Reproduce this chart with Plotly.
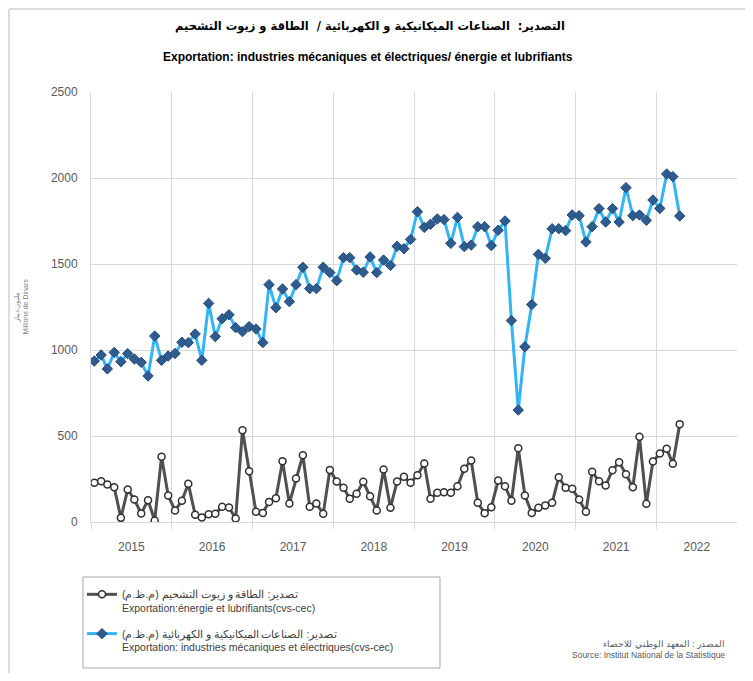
import pandas as pd
import plotly.graph_objects as go

# Monthly data, January 2015 -> April 2022 (millions of dinars)
start_month = "2015-01-01"
n_months = 88

energie = [228, 237, 218, 202, 24, 189, 131, 49, 127, 9, 379, 154,
           67, 123, 222, 42, 26, 45, 48, 88, 84, 20, 534, 295,
           59, 53, 117, 138, 353, 108, 253, 388, 88, 108, 48, 303,
           235, 199, 135, 164, 234, 150, 67, 305, 83, 235, 263, 228,
           272, 340, 135, 170, 173, 170, 208, 309, 358, 112, 51, 86,
           241, 208, 123, 429, 154, 53, 83, 96, 112, 260, 199, 193,
           131, 59, 292, 237, 212, 301, 348, 278, 202, 495, 106, 352,
           398, 426, 338, 569]

industries = [936, 971, 890, 986, 932, 979, 948, 928, 849, 1081, 940, 965,
              980, 1045, 1043, 1093, 940, 1271, 1078, 1182, 1205, 1130, 1107, 1136,
              1122, 1043, 1380, 1246, 1355, 1281, 1380, 1481, 1357, 1357, 1481, 1450,
              1403, 1537, 1537, 1465, 1452, 1541, 1450, 1523, 1492, 1603, 1589, 1643,
              1804, 1713, 1731, 1762, 1758, 1620, 1771, 1601, 1610, 1717, 1717, 1607,
              1696, 1750, 1171, 651, 1019, 1264, 1556, 1533, 1705, 1705, 1694, 1785,
              1781, 1628, 1717, 1822, 1744, 1822, 1744, 1944, 1781, 1785, 1754, 1872,
              1823, 2023, 2008, 1779]

y_ticks = [0, 500, 1000, 1500, 2000, 2500]

name_energie = "تصدير: الطاقة و زيوت التشحيم (م.ظ.م)<br>Exportation:énergie et lubrifiants(cvs-cec)"
name_industries = "تصدير: الصناعات الميكانيكية و الكهربائية (م.ظ.م)<br>Exportation: industries mécaniques et électriques(cvs-cec)"
title_ar = "التصدير:  الصناعات الميكانيكية و الكهربائية /  الطاقة و زيوت التشحيم"
title_fr = "Exportation: industries mécaniques et électriques/ énergie et lubrifiants"
ytitle = "مليون دينار<br>Millions de Dinars"
source_txt = "المصدر : المعهد الوطني للاحصاء<br>Source: Institut National de la Statistique"

months = pd.date_range(start_month, periods=n_months, freq="MS")
x = months + pd.Timedelta(days=15)  # points centred in each month

FONT = "Liberation Sans, Arial, sans-serif"
GRID = "#D9D9D9"
TXT = "#595959"

# page body has an 8px margin: plot area spans screen x 91..737, y 92..522
PW, PH = 646, 430


def px_x(sx):
    return (sx - 91) / PW


def px_y(sy):
    return (522 - sy) / PH


fig = go.Figure()
fig.add_trace(go.Scatter(
    x=x, y=energie, mode="lines+markers", name=name_energie,
    legendgroup="a",
    line=dict(color="#505050", width=3),
    marker=dict(symbol="circle", size=7, color="white",
                line=dict(color="#303030", width=1.5)),
))
fig.add_trace(go.Scatter(
    x=x, y=industries, mode="lines+markers", name=name_industries,
    legendgroup="b",
    line=dict(color="#33B4F5", width=3),
    marker=dict(symbol="diamond", size=8, color="#2E5C8F",
                line=dict(color="#24497A", width=1)),
))

fig.update_layout(
    width=745, height=665,
    paper_bgcolor="white", plot_bgcolor="white",
    margin=dict(l=83, r=16, t=84, b=151),
    font=dict(family=FONT, color=TXT),
    showlegend=True,
    legend=dict(
        x=px_x(82), y=px_y(581), xanchor="left", yanchor="top",
        bgcolor="rgba(0,0,0,0)", borderwidth=0,
        font=dict(size=10.5, color="#404040", family=FONT),
        valign="top", traceorder="grouped", tracegroupgap=9,
    ),
    xaxis=dict(
        type="date",
        range=["2015-01-01", "2022-12-31"],
        tick0=start_month, dtick="M12", tickformat="%Y",
        ticklabelmode="period",
        showgrid=True, gridcolor=GRID, gridwidth=1,
        ticks="outside", ticklen=6, tickcolor=GRID,
        showline=True, linecolor=GRID,
        tickfont=dict(size=12, color=TXT),
        ticklabelstandoff=8,
        automargin=False, zeroline=False,
    ),
    yaxis=dict(
        range=[0, 2500], tickvals=y_ticks,
        showgrid=True, gridcolor=GRID, gridwidth=1,
        showline=True, linecolor=GRID, zeroline=False,
        ticks="", tickfont=dict(size=12, color=TXT),
        ticklabelstandoff=10,
        title=dict(text=ytitle, font=dict(size=7, color="#7F7F7F"), standoff=21),
        automargin=False,
    ),
    annotations=[
        dict(text="<b>" + title_ar + "</b>", x=px_x(370), y=px_y(27), xref="paper", yref="paper",
             xanchor="center", yanchor="middle", showarrow=False,
             font=dict(size=11.5, color="#000000", family="DejaVu Sans, sans-serif")),
        dict(text="<b>" + title_fr + "</b>", x=px_x(368), y=px_y(57), xref="paper", yref="paper",
             xanchor="center", yanchor="middle", showarrow=False,
             font=dict(size=12, color="#000000", family=FONT)),
        dict(text=source_txt, x=px_x(727), y=px_y(649), xref="paper", yref="paper",
             xanchor="right", yanchor="middle", align="right", showarrow=False,
             font=dict(size=8.5, color=TXT, family=FONT)),
    ],
    shapes=[
        dict(type="rect", xref="paper", yref="paper",
             x0=px_x(83), x1=px_x(440), y0=px_y(668), y1=px_y(577),
             line=dict(color="#A6A6A6", width=1), fillcolor="rgba(0,0,0,0)"),
        dict(type="line", xref="paper", yref="paper",
             x0=px_x(9), x1=px_x(760), y0=px_y(9), y1=px_y(9),
             line=dict(color="#D0D0D0", width=1.5)),
        dict(type="line", xref="paper", yref="paper",
             x0=px_x(9), x1=px_x(9), y0=px_y(9), y1=px_y(700),
             line=dict(color="#D0D0D0", width=1.5)),
    ],
)

fig.write_html("out.html")
